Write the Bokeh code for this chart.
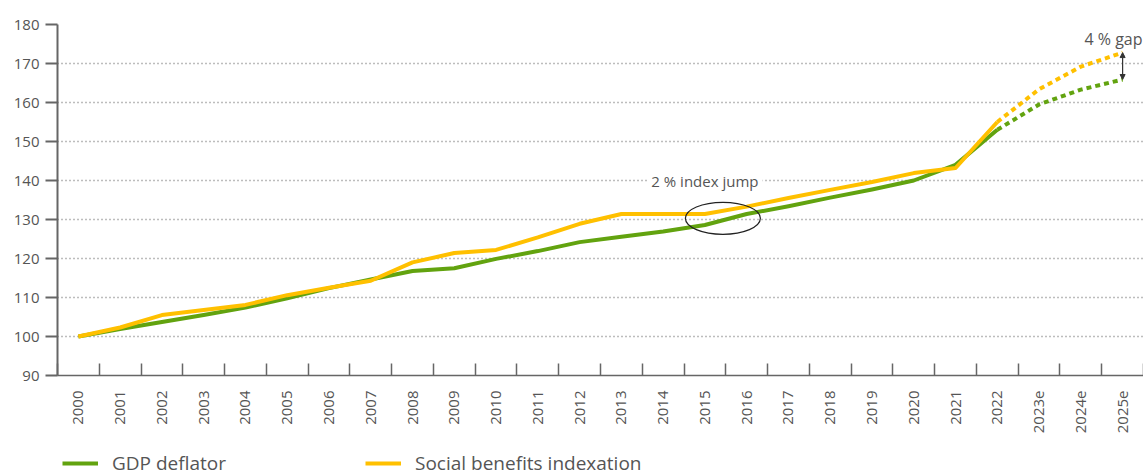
from bokeh.plotting import figure
from bokeh.layouts import column
from bokeh.models import (FixedTicker, Legend, LegendItem, Label, Arrow, NormalHead, Range1d)
from bokeh.embed import file_html
from bokeh.resources import INLINE

years = ["2000", "2001", "2002", "2003", "2004", "2005", "2006", "2007", "2008", "2009",
         "2010", "2011", "2012", "2013", "2014", "2015", "2016", "2017", "2018", "2019",
         "2020", "2021", "2022", "2023e", "2024e", "2025e"]
gdp_deflator = [100, 101.9, 103.7, 105.5, 107.4, 109.8, 112.4, 114.6, 116.8, 117.5,
                119.9, 121.9, 124.2, 125.6, 126.9, 128.6, 131.4, 133.4, 135.6, 137.7,
                140.0, 144.0, 153.0, 159.5, 163.3, 165.9]
social_benefits = [100, 102.3, 105.5, 106.8, 108.1, 110.6, 112.5, 114.3, 119.0, 121.4,
                   122.2, 125.4, 128.9, 131.4, 131.4, 131.4, 133.3, 135.5, 137.6, 139.6,
                   141.9, 143.2, 155.0, 163.4, 169.2, 172.8]
y_ticks = [90, 100, 110, 120, 130, 140, 150, 160, 170, 180]
series_names = ["GDP deflator", "Social benefits indexation"]
last_actual = "2022"
jump_year = "2015"
jump_text = "2 % index jump"
gap_text = "4 % gap"

GREEN = "#62a30f"
ORANGE = "#ffc000"
TXT = "#555555"
AX = "#666666"
FONT = "Open Sans"

xi = list(range(len(years)))
cut = years.index(last_actual)

p = figure(width=1143, height=440, output_backend="svg", toolbar_location=None,
           x_range=Range1d(-0.5, len(years) - 0.5), y_range=Range1d(90, 180),
           min_border_left=57, min_border_right=0, min_border_top=24, min_border_bottom=65)
p.outline_line_color = None
p.background_fill_color = "white"
p.border_fill_color = "white"

# axes
xa = p.xaxis[0]
xa.ticker = FixedTicker(ticks=xi, minor_ticks=[i - 0.5 for i in xi] + [len(years) - 0.5])
xa.major_label_overrides = {i: y for i, y in enumerate(years)}
xa.major_label_orientation = 3.14159265 / 2
xa.major_tick_in = 0
xa.major_tick_out = 0
xa.minor_tick_in = 12
xa.minor_tick_out = 0
xa.minor_tick_line_color = AX
xa.minor_tick_line_width = 1.5
xa.axis_line_color = AX
xa.axis_line_width = 1.5
xa.major_label_standoff = 15
xa.major_label_text_font = FONT
xa.major_label_text_font_size = "15px"
xa.major_label_text_color = TXT

ya = p.yaxis[0]
ya.ticker = FixedTicker(ticks=y_ticks, minor_ticks=[])
ya.major_tick_in = 0
ya.major_tick_out = 12
ya.major_tick_line_color = AX
ya.major_tick_line_width = 2
ya.axis_line_color = AX
ya.axis_line_width = 2
ya.major_label_standoff = 6
ya.major_label_text_font = FONT
ya.major_label_text_font_size = "15px"
ya.major_label_text_color = TXT

p.xgrid.visible = False
p.ygrid.ticker = FixedTicker(ticks=y_ticks[1:])
p.ygrid.grid_line_color = "#7a7a7a"
p.ygrid.grid_line_dash = "1 3"
p.ygrid.grid_line_width = 1.3

# lines
p.line(xi[:cut + 1], gdp_deflator[:cut + 1], line_color=GREEN, line_width=4, line_join="round")
p.line(xi[cut:], gdp_deflator[cut:], line_color=GREEN, line_width=4, line_dash="5 4")
p.line(xi[:cut + 1], social_benefits[:cut + 1], line_color=ORANGE, line_width=4, line_join="round")
p.line(xi[cut:], social_benefits[cut:], line_color=ORANGE, line_width=4, line_dash="5 4")

# annotations
jx = years.index(jump_year)
p.add_layout(Label(x=jx, y=140, text=jump_text, text_align="center", text_baseline="middle",
                   text_font=FONT, text_font_size="15px", text_color=TXT,
                   background_fill_color="white", background_fill_alpha=1.0,
                   padding=4))
p.ellipse(x=[jx + 0.43], y=[130.3], width=[75], height=[32], width_units="screen",
          height_units="screen", fill_color=None, line_color="#222222", line_width=1.2)

lx = len(years) - 1
p.add_layout(Label(x=len(years) - 0.5, y=176.4, x_offset=-1, text=gap_text, text_align="right",
                   text_baseline="middle", text_font=FONT, text_font_size="16px",
                   text_color=TXT))
p.add_layout(Arrow(x_start=lx, y_start=gdp_deflator[-1], x_end=lx, y_end=social_benefits[-1],
                   start=NormalHead(size=5, fill_color="#333333", line_color="#333333"),
                   end=NormalHead(size=5, fill_color="#333333", line_color="#333333"),
                   line_color="#333333", line_width=1.2))

# legend strip (series drawn off-range so only the legend shows)
lg = figure(width=1143, height=36, output_backend="svg", toolbar_location=None,
            x_axis_type=None, y_axis_type=None, min_border=0,
            x_range=Range1d(-1000, -999), y_range=Range1d(-1000, -999))
lg.outline_line_color = None
lg.xgrid.visible = False
lg.ygrid.visible = False
r1 = lg.line(xi, gdp_deflator, line_color=GREEN, line_width=4)
r2 = lg.line(xi, social_benefits, line_color=ORANGE, line_width=4)
legend = Legend(items=[LegendItem(label=series_names[0], renderers=[r1]),
                       LegendItem(label=series_names[1], renderers=[r2])],
                orientation="horizontal", location=(5, 0),
                glyph_width=36, glyph_height=16, label_height=16, label_standoff=14,
                spacing=139, padding=0, margin=0, border_line_color=None,
                background_fill_alpha=0,
                label_text_font=FONT, label_text_font_size="19px", label_text_color=TXT)
lg.add_layout(legend, "center")

layout = column(p, lg, spacing=0)
open("out.html", "w").write(file_html(layout, INLINE))
